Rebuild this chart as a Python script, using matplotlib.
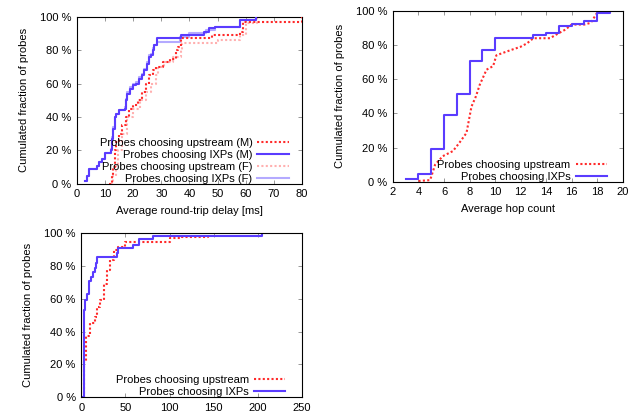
import numpy as np
import matplotlib
matplotlib.use('Agg')
import matplotlib.pyplot as plt
from matplotlib.ticker import FuncFormatter, MultipleLocator

plt.rcParams['font.family'] = ['Liberation Sans', 'DejaVu Sans']
plt.rcParams['font.size'] = 8

# --- RTT, CDF step points (x in ms, y in %) ---
rtt_ixp_m_x = [3, 3.5, 4.5, 6.5, 7, 8, 9, 10, 11.5, 12, 12.5, 13, 13.5, 14, 15, 17, 17.5,
               18, 19, 20, 21, 22, 23, 24, 25, 25.5, 26.5, 27, 27.5, 28.5, 37, 45, 47, 49, 58, 63.5]
rtt_ixp_m_y = [2, 5, 9, 9, 11, 13, 15, 18.5, 18.5, 20, 27, 33, 40, 42, 44, 45, 50,
               54, 57, 59, 60, 63, 65, 68, 72, 76, 77, 80, 83, 87, 89, 91, 93, 94, 98, 100]
rtt_up_m_x = [11.6, 12.5, 13, 13.4, 14, 15, 16, 17.5, 18.7, 20, 21.7, 23, 24.6, 25.8, 27, 28.2,
              30.6, 33, 35.3, 36, 37, 47, 48, 58, 59, 78, 80]
rtt_up_m_y = [0, 5, 10, 20, 25, 30, 35, 40, 45, 47, 50, 55, 60, 65, 68, 70,
              73, 75, 80, 82, 87, 87, 89, 91, 97, 97, 100]
rtt_up_f_x = [12, 13, 13.8, 14.5, 16, 18, 20, 22.5, 24.5, 26.5, 28, 29, 31, 34, 37, 37.5, 47,
              50, 58, 60, 64]
rtt_up_f_y = [0, 5, 12, 20, 30, 40, 45, 50, 55, 60, 65, 70, 73, 76, 80, 84, 84,
              86, 89, 96, 100]
rtt_ixp_f_x = [3, 3.5, 4.5, 6.5, 7, 8, 9, 10, 11.5, 12, 12.5, 13, 13.5, 14, 15, 17, 17.5,
               18, 19, 20, 21, 22, 23, 24, 25, 25.5, 26.5, 27, 27.5, 28.5, 36.5, 40, 46, 49, 58, 63.5]
rtt_ixp_f_y = [2, 5, 9, 9, 11, 13, 15, 18.5, 18.5, 21, 28, 34, 40, 42, 44, 46, 51,
               55, 58, 60, 61, 64, 66, 69, 73, 77, 78, 81, 83, 85, 88, 90, 92, 94, 98, 100]

# --- hop count ---
hop_ixp_x = [3, 4, 5, 6, 7, 8, 9, 10, 13, 14, 15, 16, 17, 18, 19]
hop_ixp_y = [1.5, 4.3, 19, 39, 51.5, 70.4, 77.2, 84, 86, 87, 90.9, 92.4, 93.8, 99, 100]
hop_up_x = [4, 4.9, 5.0, 5.3, 5.9, 6.7, 7.2, 7.76, 8.15, 8.5, 8.8, 9.33, 9.85, 10.1, 11.2,
            12, 12.5, 13, 14.3, 15, 15.5, 16, 17, 17.5, 18, 19]
hop_up_y = [0.5, 1, 3, 10, 15, 18, 22.8, 28.6, 44, 50, 56.8, 65.6, 67.7, 74, 77,
            79, 81, 84, 84, 87, 89, 92, 92, 93, 99, 100]

# --- RTT, full range ---
full_ixp_x = [0.5, 2.6, 3.4, 4.5, 7, 8.3, 11, 13, 16, 17, 17.7, 38.4, 40.3, 42, 57, 59,
              62, 64.8, 80, 81.7, 204, 205]
full_ixp_y = [0, 32.6, 53, 59, 63, 71, 73, 76.5, 78.6, 81.6, 85.7, 85.7, 87.8, 90.8, 90.8,
              92.9, 93, 96.3, 96.3, 98.4, 98.4, 100]
full_up_x = [1.9, 3.4, 5.6, 9.4, 15.8, 17.7, 21.5, 25.2, 29, 32.8, 36.5, 42, 49.7, 98.6,
             100.5, 112, 113.7, 142, 143.8]
full_up_y = [0, 22, 37, 45, 49, 55, 59, 69, 77.6, 83.7, 89.8, 91.8, 94.9, 94.9,
             97, 97, 98, 98, 100]

BLUE = '#5a3cff'
RED = '#ff2a2a'
PINK = '#ffb0b0'
LBLUE = '#b4aaff'
DOT = (0, (1, 1.1))

pct = FuncFormatter(lambda v, p: '%d %%' % v)


def style(ax, xmax, xstep, xmin=0):
    ax.set_xlim(xmin, xmax)
    ax.set_ylim(0, 100)
    ax.xaxis.set_major_locator(MultipleLocator(xstep))
    ax.yaxis.set_major_locator(MultipleLocator(20))
    ax.yaxis.set_major_formatter(pct)
    ax.tick_params(direction='in', top=True, right=True, length=3, width=0.6,
                   color='#888888', labelsize=8, pad=4)
    for s in ax.spines.values():
        s.set_linewidth(0.8)
    ax.set_ylabel('Cumulated fraction of probes', fontsize=8, labelpad=8)


def legend(ax, x):
    ax.legend(loc='lower right', bbox_to_anchor=(x, 0.0), frameon=False, markerfirst=False,
              fontsize=8, handlelength=2.8, handletextpad=0.45, labelspacing=0.18,
              borderpad=0, borderaxespad=0)


fig = plt.figure(figsize=(6.4, 4.18), dpi=100)

ax1 = fig.add_axes([0.120, 0.560, 0.352, 0.400])
ax1.step(rtt_up_m_x, rtt_up_m_y, where='post', color=RED, lw=1.5, ls=DOT, zorder=4,
         label='Probes choosing upstream (M)')
ax1.step(rtt_ixp_m_x, rtt_ixp_m_y, where='post', color=BLUE, lw=1.5, zorder=5,
         label='Probes choosing IXPs (M)')
ax1.step(rtt_up_f_x, rtt_up_f_y, where='post', color=PINK, lw=1.5, ls=DOT, zorder=2,
         label='Probes choosing upstream (F)')
ax1.step(rtt_ixp_f_x, rtt_ixp_f_y, where='post', color=LBLUE, lw=1.5, zorder=3,
         label='Probes choosing IXPs (F)')
style(ax1, 80, 10)
ax1.set_xlabel('Average round-trip delay [ms]', fontsize=8, labelpad=5)
legend(ax1, 0.94)

ax2 = fig.add_axes([0.614, 0.565, 0.359, 0.409])
ax2.plot(hop_up_x, hop_up_y, color=RED, lw=1.5, ls=DOT, label='Probes choosing upstream')
ax2.step(hop_ixp_x, hop_ixp_y, where='post', color=BLUE, lw=1.5, label='Probes choosing IXPs')
style(ax2, 20, 2, xmin=2)
ax2.set_xlabel('Average hop count', fontsize=8, labelpad=5)
legend(ax2, 0.93)

ax3 = fig.add_axes([0.127, 0.050, 0.345, 0.392])
ax3.step(full_up_x, full_up_y, where='post', color=RED, lw=1.5, ls=DOT,
         label='Probes choosing upstream')
ax3.step(full_ixp_x, full_ixp_y, where='post', color=BLUE, lw=1.5, label='Probes choosing IXPs')
style(ax3, 250, 50)
legend(ax3, 0.923)

fig.savefig('out.png', dpi=100)
